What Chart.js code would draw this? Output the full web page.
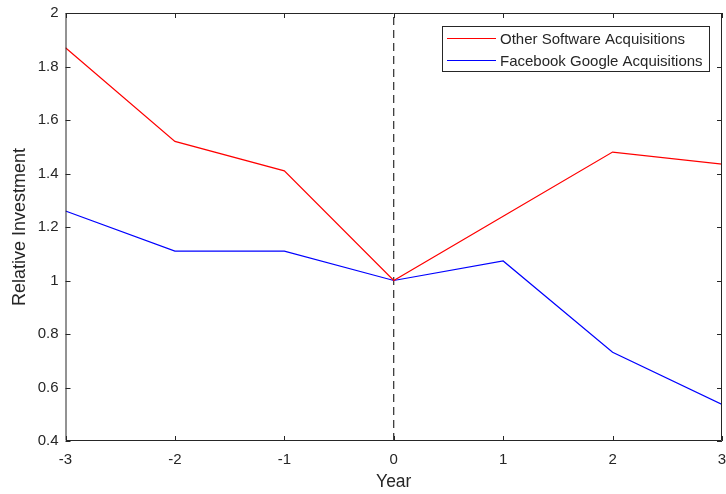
<!DOCTYPE html>
<html>
<head>
<meta charset="utf-8">
<script src="https://cdn.jsdelivr.net/npm/chart.js@4"></script>
<style>
  html, body { margin: 0; padding: 0; background: #fff; }
  #wrap { width: 726px; height: 494px; }
</style>
</head>
<body>
<div id="wrap"><canvas id="main_plot"></canvas></div>
<script>
// data
const years = [-3, -2, -1, 0, 1, 2, 3];
const otherSoftware = [1.87, 1.52, 1.41, 1.00, 1.24, 1.48, 1.435];
const facebookGoogle = [1.26, 1.11, 1.11, 1.00, 1.073, 0.732, 0.537];
const eventLineX = [0, 0];
const eventLineY = [0.4, 2];
const xTicks = [-3, -2, -1, 0, 1, 2, 3];
const yTicks = [0.4, 0.6, 0.8, 1, 1.2, 1.4, 1.6, 1.8, 2];

const axisColor = '#262626';
const fontFamily = '"Liberation Sans", Arial, Helvetica, sans-serif';

// box round the plot, inward ticks on all four sides, legend inside
const matlabAxes = {
    id: 'matlabAxes',
    afterDraw(chart) {
        const ctx = chart.ctx;
        const a = chart.chartArea;
        const xs = chart.scales.x, ys = chart.scales.y;
        const len = 5;
        ctx.save();
        ctx.strokeStyle = axisColor;
        ctx.lineWidth = 1;
        ctx.beginPath();
        ctx.rect(a.left + 0.5, a.top + 0.5, a.right - a.left - 1, a.bottom - a.top - 1);
        xTicks.forEach(v => {
            const px = Math.round(xs.getPixelForValue(v)) + 0.5;
            ctx.moveTo(px, a.bottom); ctx.lineTo(px, a.bottom - len);
            ctx.moveTo(px, a.top); ctx.lineTo(px, a.top + len);
        });
        yTicks.forEach(v => {
            const py = Math.round(ys.getPixelForValue(v)) + 0.5;
            ctx.moveTo(a.left, py); ctx.lineTo(a.left + len, py);
            ctx.moveTo(a.right, py); ctx.lineTo(a.right - len, py);
        });
        ctx.stroke();

        // legend
        const sets = chart.data.datasets.filter(d => d.label);
        const bx = Math.round(a.right - 280), by = Math.round(a.top + 13), bw = 267, bh = 45;
        ctx.fillStyle = '#fff';
        ctx.fillRect(bx, by, bw, bh);
        ctx.strokeRect(bx + 0.5, by + 0.5, bw, bh);
        ctx.font = '15px ' + fontFamily;
        ctx.textBaseline = 'middle';
        sets.forEach((d, i) => {
            const y = Math.round(by + 12 + i * 22) + 0.5;
            ctx.strokeStyle = d.borderColor;
            ctx.lineWidth = 1.2;
            ctx.beginPath();
            ctx.moveTo(bx + 5, y); ctx.lineTo(bx + 54, y);
            ctx.stroke();
            ctx.fillStyle = axisColor;
            ctx.fillText(d.label, bx + 58, y + 1);
        });
        ctx.restore();
    }
};

const fmt = v => String(Math.round(v * 10) / 10);

new Chart(document.getElementById('main_plot').getContext('2d'), {
    type: 'line',
    data: {
        datasets: [{
            label: 'Other Software Acquisitions',
            data: years.map((x, i) => ({x, y: otherSoftware[i]})),
            borderColor: '#ff0000',
            borderWidth: 1.2,
            pointRadius: 0,
            fill: false
        }, {
            label: 'Facebook Google Acquisitions',
            data: years.map((x, i) => ({x, y: facebookGoogle[i]})),
            borderColor: '#0000ff',
            borderWidth: 1.2,
            pointRadius: 0,
            fill: false
        }, {
            label: '',
            data: eventLineX.map((x, i) => ({x, y: eventLineY[i]})),
            borderColor: '#000000',
            borderWidth: 1,
            borderDash: [8, 5],
            pointRadius: 0,
            fill: false
        }]
    },
    options: {
        responsive: true,
        maintainAspectRatio: false,
        animation: false,
        layout: { padding: { left: 0, top: 13, right: 4, bottom: 0 } },
        plugins: {
            legend: { display: false },
            tooltip: { enabled: false }
        },
        scales: {
            x: {
                type: 'linear',
                min: -3,
                max: 3,
                afterFit: s => { s.height = 53; s.paddingLeft = 0; s.paddingRight = 0; },
                afterBuildTicks: s => { s.ticks = xTicks.map(v => ({value: v})); },
                grid: { display: false, drawTicks: false },
                border: { display: false },
                ticks: {
                    color: axisColor,
                    font: { family: fontFamily, size: 15 },
                    padding: 10,
                    maxRotation: 0,
                    callback: fmt
                },
                title: {
                    display: true,
                    text: 'Year',
                    color: axisColor,
                    font: { family: fontFamily, size: 17.5 },
                    padding: { top: 0, bottom: 1 }
                }
            },
            y: {
                min: 0.4,
                max: 2,
                afterFit: s => { s.width = 65.5; s.paddingTop = 0; s.paddingBottom = 0; },
                afterBuildTicks: s => { s.ticks = yTicks.map(v => ({value: v})); },
                grid: { display: false, drawTicks: false },
                border: { display: false },
                ticks: {
                    color: axisColor,
                    font: { family: fontFamily, size: 15 },
                    padding: 7,
                    callback: fmt
                },
                title: {
                    display: true,
                    text: 'Relative Investment',
                    color: axisColor,
                    font: { family: fontFamily, size: 18 },
                    padding: { top: 9, bottom: 0 }
                }
            }
        }
    },
    plugins: [matlabAxes]
});
</script>
</body>
</html>
